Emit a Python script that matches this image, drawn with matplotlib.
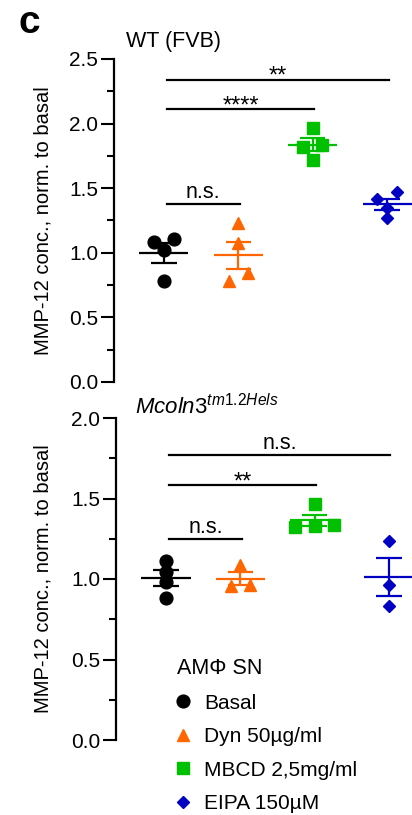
import numpy as np
import matplotlib
matplotlib.use('Agg')
import matplotlib.pyplot as plt
from matplotlib.lines import Line2D
from matplotlib.ticker import MultipleLocator

plt.rcParams['font.family'] = ['Liberation Sans', 'DejaVu Sans']
plt.rcParams['mathtext.fontset'] = 'custom'
plt.rcParams['mathtext.it'] = 'Liberation Sans:italic'
plt.rcParams['mathtext.rm'] = 'Liberation Sans'

# groups and per-well values (normalised to basal)
groups = ['Basal', 'Dyn 50µg/ml', 'MBCD 2,5mg/ml', 'EIPA 150µM']
colors = ['black', '#FF6600', '#00C000', '#0000C0']
markers = ['o', '^', 's', 'D']
msizes = [9.2, 8.7, 8.3, 6.4]

wt_basal = [1.11, 1.085, 1.02, 0.78]
wt_dyn = [1.23, 1.077, 0.84, 0.78]
wt_mbcd = [1.966, 1.835, 1.82, 1.72]
wt_eipa = [1.47, 1.417, 1.35, 1.27]

ko_basal = [1.112, 1.045, 0.98, 0.88]
ko_dyn = [1.087, 0.963, 0.957]
ko_mbcd = [1.466, 1.335, 1.331, 1.325]
ko_eipa = [1.238, 0.963, 0.832]

# significance brackets: (from group, to group, height, label)
wt_sig = [(0, 3, 2.337, '**'), (0, 2, 2.11, '****'), (0, 1, 1.377, 'n.s.')]
ko_sig = [(0, 3, 1.77, 'n.s.'), (0, 2, 1.582, '**'), (0, 1, 1.246, 'n.s.')]

fig = plt.figure(figsize=(4.12, 8.15), dpi=100)
ax1 = fig.add_axes([114/412, 1-382/815, 298/412, 323/815])
ax2 = fig.add_axes([116/412, 1-740/815, 296/412, 322/815])


def swarm(vals, ax, thresh=10, step=19.5):
    # GraphPad-like: points close in y share a row and are spread sideways
    y0, y1 = ax.get_ylim()
    x0, x1 = ax.get_xlim()
    ppy = ax.bbox.height / (y1 - y0)
    ppx = ax.bbox.width / (x1 - x0)
    vals = np.asarray(vals)
    rows = []
    for idx in np.argsort(vals)[::-1]:
        if rows and (vals[rows[-1][0]] - vals[idx]) * ppy < thresh:
            rows[-1].append(idx)
        else:
            rows.append([idx])
    off = np.zeros(len(vals))
    for row in rows:
        n = len(row)
        for k, idx in enumerate(row):
            off[idx] = ((n - 1) / 2 - k) * step / ppx
    return off


def panel(ax, data, ylim, xlim, sig):
    ax.set_ylim(*ylim)
    ax.set_xlim(*xlim)
    for i, vals in enumerate(data):
        c = colors[i]
        x = i + swarm(vals, ax)
        ax.plot(x, vals, ls='none', marker=markers[i], ms=msizes[i],
                color=c, mec=c, zorder=3, clip_on=False)
        m = np.mean(vals)
        se = np.std(vals, ddof=1) / np.sqrt(len(vals))
        kw = dict(color=c, lw=1.6, zorder=4, clip_on=False, solid_capstyle='butt')
        ax.plot([i - 0.33, i + 0.33], [m, m], **kw)
        ax.plot([i, i], [m - se, m + se], **kw)
        ax.plot([i - 0.17, i + 0.17], [m + se, m + se], **kw)
        ax.plot([i - 0.17, i + 0.17], [m - se, m - se], **kw)
    for a, b, y, lab in sig:
        ax.plot([a + 0.04, b + 0.02], [y, y], color='black', lw=1.6, clip_on=False)
        if '*' in lab:
            dy, fs = -2.0, 17
        else:
            dy, fs = 4.3, 15.5
        ax.annotate(lab, ((a + b) / 2 + 0.03, y), xytext=(0, dy),
                    textcoords='offset points', ha='center', va='baseline',
                    fontsize=fs)
    for s in ['top', 'right', 'bottom']:
        ax.spines[s].set_visible(False)
    ax.spines['left'].set_linewidth(1.6)
    ax.set_xticks([])
    ax.yaxis.set_major_locator(MultipleLocator(0.5))
    ax.yaxis.set_minor_locator(MultipleLocator(0.25))
    ax.tick_params(axis='y', which='major', length=9.5, width=1.5, labelsize=15, pad=2)
    ax.tick_params(axis='y', which='minor', length=5, width=1.5)
    ax.set_ylabel('MMP-12 conc., norm. to basal', fontsize=14.5)


panel(ax1, [wt_basal, wt_dyn, wt_mbcd, wt_eipa], (0, 2.5), (-0.67, 3.335), wt_sig)
panel(ax2, [ko_basal, ko_dyn, ko_mbcd, ko_eipa], (0, 2.0), (-0.673, 3.31), ko_sig)
ax1.yaxis.set_label_coords((53 - 114) / 298, 0.5)
ax2.yaxis.set_label_coords((53 - 116) / 296, 0.5)

fig.text(18/412, 1-33/815, 'c', fontsize=28, fontweight='bold', va='baseline')
fig.text(126/412, 1-47.5/815, 'WT (FVB)', fontsize=15.5, va='baseline')
fig.text(135/412, 1-414/815, r'$\mathit{Mcoln3}^{\mathit{tm1.2Hels}}$',
         fontsize=16, va='baseline')

handles = [Line2D([], [], ls='none', marker=markers[i], ms=msizes[i],
                  color=colors[i]) for i in range(4)]
fig.legend(handles, groups, title='AMΦ SN', loc='upper left',
           bbox_to_anchor=(177/412, 1-658/815), frameon=False, fontsize=15,
           title_fontsize=15.5, handlelength=0.55, handletextpad=0.75,
           labelspacing=0.7, borderpad=0, borderaxespad=0, alignment='left')

fig.savefig('out.png', dpi=100)
